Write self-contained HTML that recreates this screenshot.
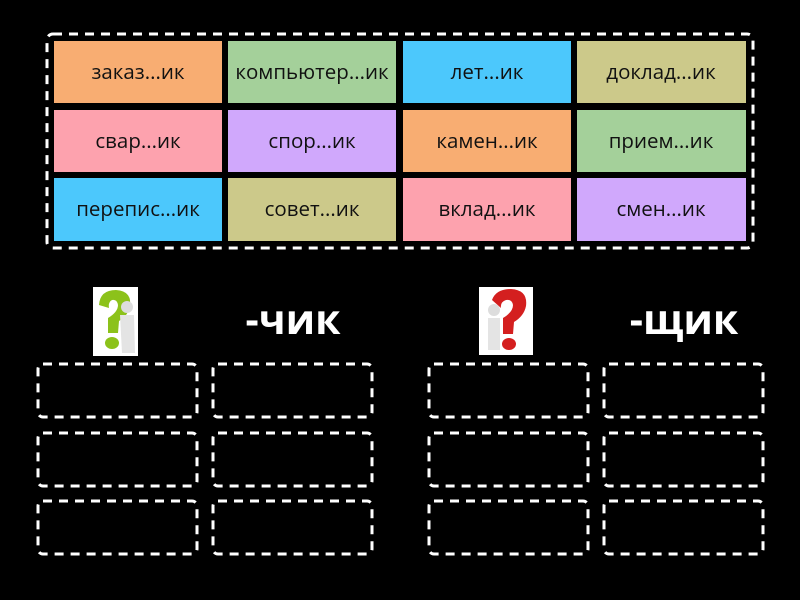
<!DOCTYPE html>
<html><head><meta charset="utf-8"><style>
html,body{margin:0;padding:0;background:#000;}
svg{display:block}
.t{font-family:"Open Sans","Liberation Sans","DejaVu Sans",sans-serif;font-size:20.5px;font-weight:500;fill:#111;text-anchor:middle}
.h{font-family:"Open Sans","Liberation Sans","DejaVu Sans",sans-serif;font-size:41px;font-weight:bold;fill:#fff;text-anchor:middle}
.d{fill:none;stroke:#fff;stroke-width:3;stroke-dasharray:9 7}
</style></head><body>
<svg width="800" height="600" viewBox="0 0 800 600" xmlns="http://www.w3.org/2000/svg">
<rect x="0" y="0" width="800" height="600" fill="#000"/>
<rect class="d" x="47" y="34" width="706" height="214" rx="6"/>
<g>
<rect x="54" y="41" width="168" height="62" fill="#f8ad72"/><text class="t" x="138" y="79">заказ...ик</text>
<rect x="228" y="41" width="168" height="62" fill="#a4d09a"/><text class="t" x="312" y="79">компьютер...ик</text>
<rect x="403" y="41" width="168" height="62" fill="#4cc8fc"/><text class="t" x="487" y="79">лет...ик</text>
<rect x="577" y="41" width="169" height="62" fill="#ccc98a"/><text class="t" x="661" y="79">доклад...ик</text>

<rect x="54" y="110" width="168" height="62" fill="#fda2ae"/><text class="t" x="138" y="148">свар...ик</text>
<rect x="228" y="110" width="168" height="62" fill="#d0a8fc"/><text class="t" x="312" y="148">спор...ик</text>
<rect x="403" y="110" width="168" height="62" fill="#f8ad72"/><text class="t" x="487" y="148">камен...ик</text>
<rect x="577" y="110" width="169" height="62" fill="#a4d09a"/><text class="t" x="661" y="148">прием...ик</text>

<rect x="54" y="178" width="168" height="63" fill="#4cc8fc"/><text class="t" x="138" y="216">перепис...ик</text>
<rect x="228" y="178" width="168" height="63" fill="#ccc98a"/><text class="t" x="312" y="216">совет...ик</text>
<rect x="403" y="178" width="168" height="63" fill="#fda2ae"/><text class="t" x="487" y="216">вклад...ик</text>
<rect x="577" y="178" width="169" height="63" fill="#d0a8fc"/><text class="t" x="661" y="216">смен...ик</text>
</g>

<rect x="93" y="287" width="45" height="69" fill="#fff"/>
<path d="M99 305 Q100 290 116 290 Q132 291 130 306 Q128 316 119 321 L118 333 L108 333 L108 318 Q118 312 118 305 Q117 299 112 300 Q108 302 109 308 Z" fill="#8cc21a"/>
<ellipse cx="112" cy="343" rx="7" ry="6" fill="#8cc21a"/>
<circle cx="127" cy="307" r="6" fill="#ddd"/>
<path d="M120 315 L134 315 L135 353 L122 353 Z" fill="#e4e4e4"/>

<rect x="479" y="287" width="54" height="68" fill="#fff"/>
<path d="M492 300 Q496 289 511 289 Q528 290 526 306 Q524 316 514 322 L513 334 L503 334 L503 318 Q513 312 513 305 Q512 299 506 300 Q500 302 501 308 Z" fill="#d41f1f"/>
<ellipse cx="509" cy="344" rx="7" ry="6" fill="#d41f1f"/>
<circle cx="494" cy="310" r="6" fill="#ddd"/>
<path d="M488 318 L500 318 L500 350 L488 350 Z" fill="#e4e4e4"/>

<text class="h" x="293" y="334">-чик</text>
<text class="h" x="684" y="334">-щик</text>

<g>
<rect class="d" x="38" y="364" width="159" height="53" rx="5"/>
<rect class="d" x="213" y="364" width="159" height="53" rx="5"/>
<rect class="d" x="429" y="364" width="159" height="53" rx="5"/>
<rect class="d" x="604" y="364" width="159" height="53" rx="5"/>
<rect class="d" x="38" y="433" width="159" height="53" rx="5"/>
<rect class="d" x="213" y="433" width="159" height="53" rx="5"/>
<rect class="d" x="429" y="433" width="159" height="53" rx="5"/>
<rect class="d" x="604" y="433" width="159" height="53" rx="5"/>
<rect class="d" x="38" y="501" width="159" height="53" rx="5"/>
<rect class="d" x="213" y="501" width="159" height="53" rx="5"/>
<rect class="d" x="429" y="501" width="159" height="53" rx="5"/>
<rect class="d" x="604" y="501" width="159" height="53" rx="5"/>
</g>
</svg>
</body></html>
